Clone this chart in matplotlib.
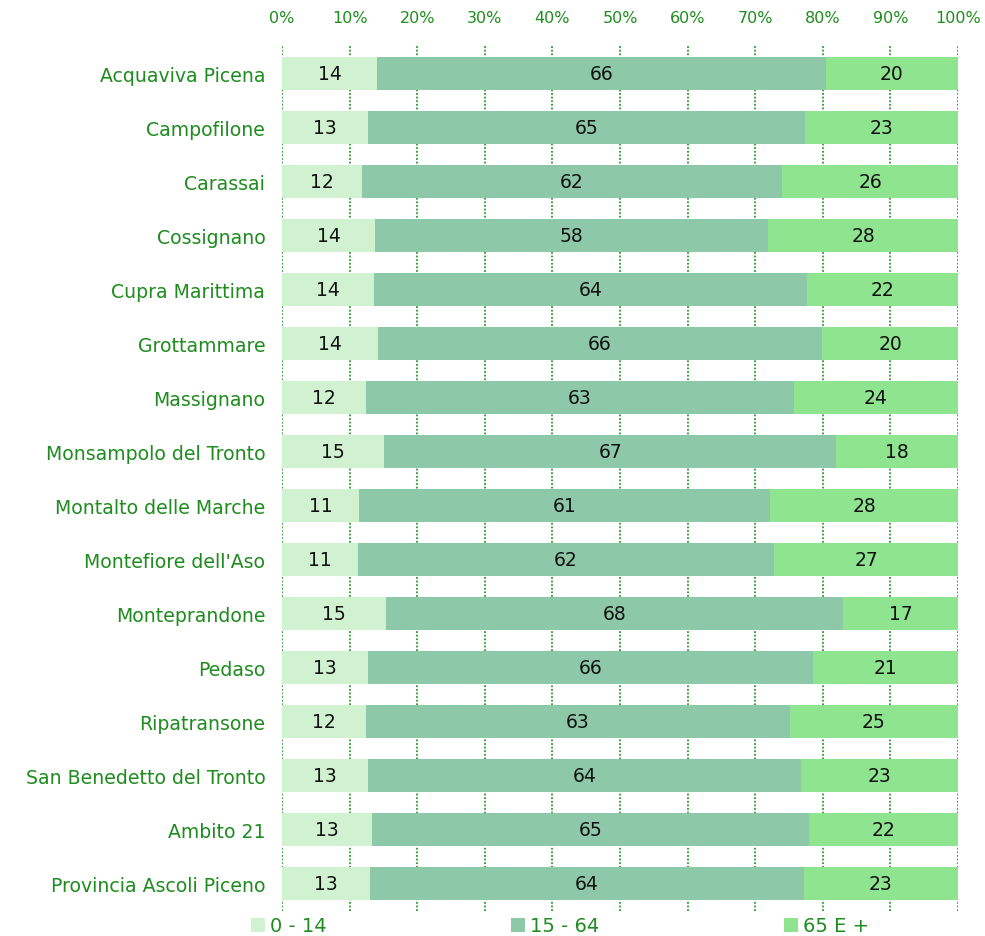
import matplotlib
matplotlib.use("Agg")
import matplotlib.pyplot as plt
import numpy as np

categories = ["Acquaviva Picena", "Campofilone", "Carassai", "Cossignano",
              "Cupra Marittima", "Grottammare", "Massignano",
              "Monsampolo del Tronto", "Montalto delle Marche",
              "Montefiore dell'Aso", "Monteprandone", "Pedaso",
              "Ripatransone", "San Benedetto del Tronto", "Ambito 21",
              "Provincia Ascoli Piceno"]
age_0_14 = [14.05, 12.7, 11.8, 13.8, 13.6, 14.2, 12.4, 15.1, 11.4, 11.2, 15.4, 12.7, 12.4, 12.7, 13.3, 13.0]
age_15_64 = [66.4, 64.6, 62.2, 58.1, 64.0, 65.7, 63.3, 66.9, 60.8, 61.6, 67.6, 65.9, 62.7, 64.1, 64.7, 64.2]
age_65 = [19.55, 22.7, 26.0, 28.1, 22.4, 20.1, 24.3, 18.0, 27.8, 27.2, 17.0, 21.4, 24.9, 23.2, 22.0, 22.8]
series_names = ["0 - 14", "15 - 64", "65 E +"]
tick_labels = ["0%", "10%", "20%", "30%", "40%", "50%", "60%", "70%", "80%", "90%", "100%"]

colors = ["#d0f2d0", "#8dc9a8", "#8fe48f"]
green = "#1e8c1e"

fig = plt.figure(figsize=(9.85, 9.37), dpi=100)
ax = fig.add_axes([282/985, 1-912/937, 676/985, 865/937])

y = np.arange(len(categories))
series = [age_0_14, age_15_64, age_65]
left = np.zeros(len(categories))
handles = []
for vals, c, name in zip(series, colors, series_names):
    vals = np.array(vals)
    b = ax.barh(y, vals, left=left, height=0.61, color=c, label=name, zorder=3)
    handles.append(b)
    for yi, (l, v) in enumerate(zip(left, vals)):
        ax.text(l + v/2, yi, f"{int(round(v))}", ha="center", va="center",
                fontsize=13.5, color="#111111", zorder=4)
    left = left + vals

ax.set_xlim(0, 100)
ax.set_ylim(len(categories)-0.5, -0.5)
ax.set_yticks(y)
ax.set_yticklabels(categories, fontsize=13.6, color=green)
ax.set_xticks(np.arange(0, 101, 10))
ax.set_xticklabels(tick_labels, fontsize=11.5, color=green)
ax.xaxis.tick_top()
ax.tick_params(axis="both", length=0)
ax.tick_params(axis="x", pad=15)
ax.tick_params(axis="y", pad=12)
for s in ax.spines.values():
    s.set_visible(False)
ax.xaxis.grid(True, color="#2a9a2a", linestyle=(0, (1, 1)), linewidth=1.3, zorder=0)
ax.set_axisbelow(True)

fig.legend(handles=handles, labels=series_names, loc="center left",
           bbox_to_anchor=(251/985, 1-927/937), ncol=3, frameon=False,
           fontsize=14, labelcolor=green, handlelength=0.72, handleheight=0.72,
           handletextpad=0.26, columnspacing=9.5, borderpad=0, borderaxespad=0)

fig.savefig("out.png", dpi=100)
